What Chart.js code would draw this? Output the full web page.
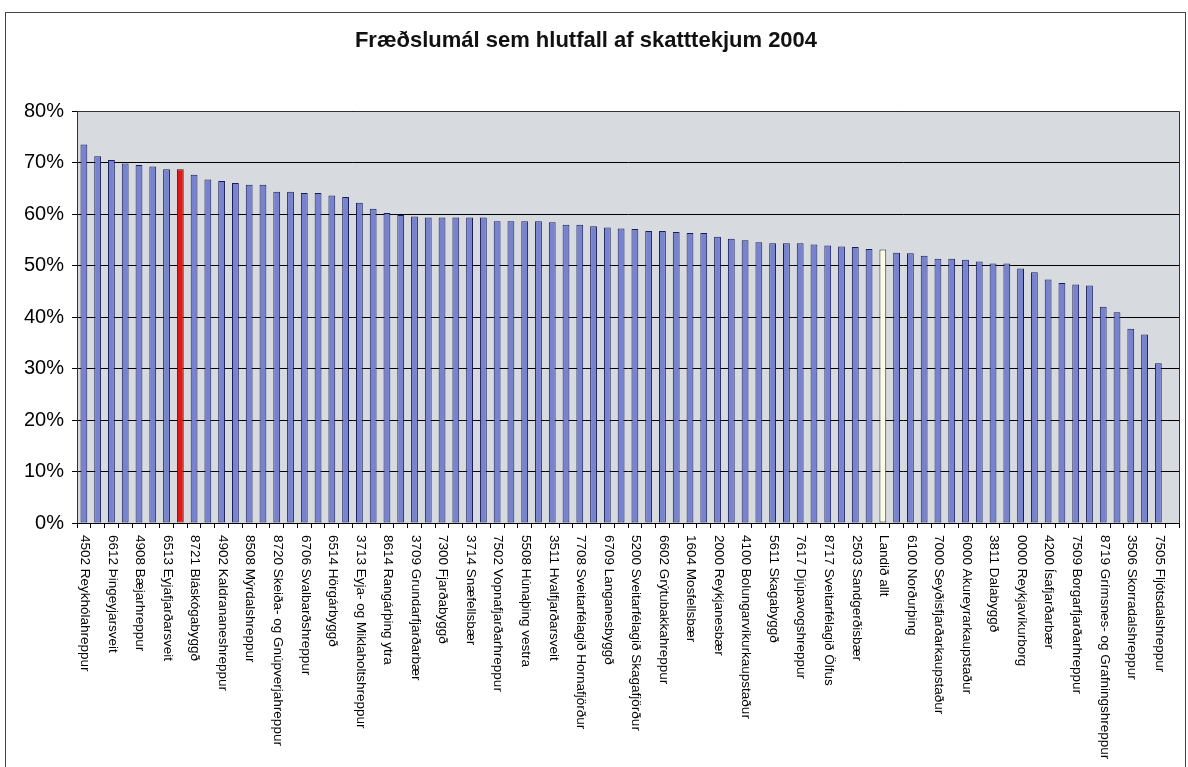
<!DOCTYPE html>
<html>
<head>
<meta charset="utf-8">
<script src="https://cdn.jsdelivr.net/npm/chart.js@4"></script>
<style>
html,body{margin:0;padding:0;background:#fff;}
#wrap{width:1188px;height:767px;position:relative;}
</style>
</head>
<body>
<div id="wrap"><canvas id="c" width="1188" height="767"></canvas></div>
<script>
const chartTitle = 'Fræðslumál sem hlutfall af skatttekjum 2004';

const categories = [
  '4502 Reykhólahreppur', '', '6612 Þingeyjarsveit', '', '4908 Bæjarhreppur', '', '6513 Eyjafjarðarsveit', '',
  '8721 Bláskógabyggð', '', '4902 Kaldrananeshreppur', '', '8508 Mýrdalshreppur', '', '8720 Skeiða- og Gnúpverjahreppur', '',
  '6706 Svalbarðshreppur', '', '6514 Hörgárbyggð', '', '3713 Eyja- og Miklaholtshreppur', '', '8614 Rangárþing ytra', '',
  '3709 Grundarfjarðarbær', '', '7300 Fjarðabyggð', '', '3714 Snæfellsbær', '', '7502 Vopnafjarðarhreppur', '',
  '5508 Húnaþing vestra', '', '3511 Hvalfjarðarsveit', '', '7708 Sveitarfélagið Hornafjörður', '', '6709 Langanesbyggð', '',
  '5200 Sveitarfélagið Skagafjörður', '', '6602 Grýtubakkahreppur', '', '1604 Mosfellsbær', '', '2000 Reykjanesbær', '',
  '4100 Bolungarvíkurkaupstaður', '', '5611 Skagabyggð', '', '7617 Djúpavogshreppur', '', '8717 Sveitarfélagið Ölfus', '',
  '2503 Sandgerðisbær', '', 'Landið allt', '', '6100 Norðurþing', '', '7000 Seyðisfjarðarkaupstaður', '',
  '6000 Akureyrarkaupstaður', '', '3811 Dalabyggð', '', '0000 Reykjavíkurborg', '', '4200 Ísafjarðarbær', '',
  '7509 Borgarfjarðarhreppur', '', '8719 Grímsnes- og Grafningshreppur', '', '3506 Skorradalshreppur', '', '7505 Fljótsdalshreppur',
  ''
];

const values = [
  73.5, 71.2, 70.5, 69.8, 69.5, 69.2, 68.7, 68.7, 67.6, 66.7,
  66.4, 66.0, 65.7, 65.7, 64.3, 64.3, 64.1, 64.1, 63.6, 63.3,
  62.2, 61.0, 60.2, 59.8, 59.5, 59.3, 59.3, 59.3, 59.3, 59.3,
  58.6, 58.6, 58.6, 58.6, 58.4, 57.9, 57.9, 57.6, 57.4, 57.2,
  57.1, 56.7, 56.7, 56.5, 56.3, 56.3, 55.6, 55.2, 54.9, 54.5,
  54.3, 54.3, 54.3, 54.1, 53.9, 53.7, 53.6, 53.2, 53.1, 52.5,
  52.4, 51.9, 51.3, 51.3, 51.1, 50.8, 50.4, 50.4, 49.4, 48.7,
  47.3, 46.6, 46.3, 46.1, 42.0, 40.9, 37.7, 36.6, 31.0,
  null
];

const yTicks = [0, 10, 20, 30, 40, 50, 60, 70, 80];
const highlightIndex = 7;          // red bar
const totalLabel = 'Landið allt';  // national average bar

const fills = values.map((v, i) => i === highlightIndex ? '#e01818' : (categories[i] === totalLabel ? '#fbfbe8' : '#7883cf'));
const borders = values.map((v, i) => i === highlightIndex ? '#5a0c0c' : (categories[i] === totalLabel ? '#2c3a20' : '#1a1d56'));

const bgPlugin = {
  id: 'bg',
  beforeDraw(chart) {
    const ctx = chart.ctx, a = chart.chartArea;
    ctx.save();
    ctx.fillStyle = '#fff';
    ctx.fillRect(0, 0, chart.width, chart.height);
    ctx.strokeStyle = '#444';
    ctx.lineWidth = 1;
    ctx.strokeRect(5.5, 12.5, 1180, 800);
    ctx.fillStyle = '#d7dbdf';
    ctx.fillRect(a.left, a.top, a.right - a.left, a.bottom - a.top);
    ctx.fillStyle = '#111';
    ctx.font = 'bold 22px "Liberation Sans", Arial, sans-serif';
    ctx.textAlign = 'center';
    ctx.textBaseline = 'middle';
    ctx.fillText(chartTitle, 586, 41);
    ctx.restore();
  },
  afterDraw(chart) {
    const ctx = chart.ctx, a = chart.chartArea, xs = chart.scales.x;
    ctx.save();
    ctx.strokeStyle = '#333';
    ctx.lineWidth = 1;
    ctx.beginPath();
    ctx.moveTo(a.left, a.top + 0.5);
    ctx.lineTo(a.right + 0.5, a.top + 0.5);
    ctx.lineTo(a.right + 0.5, a.bottom);
    ctx.stroke();
    ctx.fillStyle = '#000';
    ctx.font = '13.5px "Liberation Sans", Arial, sans-serif';
    ctx.textAlign = 'left';
    ctx.textBaseline = 'middle';
    categories.forEach((lab, i) => {
      if (!lab) return;
      const x = xs.getPixelForValue(i) + 1;
      ctx.save();
      ctx.translate(x, a.bottom + 12);
      ctx.rotate(Math.PI / 2);
      ctx.fillText(lab, 0, 0);
      ctx.restore();
    });
    ctx.restore();
  }
};

new Chart(document.getElementById('c'), {
  type: 'bar',
  data: {
    labels: categories,
    datasets: [{
      data: values,
      backgroundColor: fills,
      borderColor: borders,
      borderWidth: 1,
      borderSkipped: false,
      barPercentage: 0.9,
      categoryPercentage: 0.55
    }]
  },
  options: {
    responsive: false,
    animation: false,
    layout: { padding: { top: 111, left: 0, right: 9, bottom: 0 } },
    plugins: { legend: { display: false }, title: { display: false }, tooltip: { enabled: false } },
    scales: {
      x: {
        offset: true,
        grid: { display: true, offset: true, drawOnChartArea: false, drawTicks: true, tickLength: 5, color: '#000', lineWidth: 1 },
        border: { display: true, color: '#000', width: 1 },
        ticks: { display: false, autoSkip: false },
        afterFit(s) { s.height = 244; }
      },
      y: {
        min: 0, max: 80,
        afterBuildTicks(s) { s.ticks = yTicks.map(v => ({ value: v })); },
        grid: { color: '#000', lineWidth: 1, tickLength: 5, drawTicks: true },
        border: { display: true, color: '#333', width: 1 },
        ticks: {
          color: '#000',
          padding: 8,
          font: { size: 20, family: '"Liberation Sans", Arial, sans-serif' },
          callback: v => v + '%'
        },
        afterFit(s) { s.width = 77; }
      }
    }
  },
  plugins: [bgPlugin]
});
</script>
</body>
</html>
